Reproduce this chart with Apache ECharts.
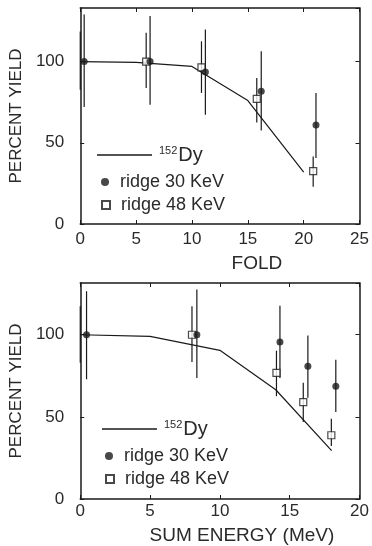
<!DOCTYPE html>
<html>
<head>
<meta charset="utf-8">
<script src="https://cdn.jsdelivr.net/npm/echarts@6/dist/echarts.min.js"></script>
<style>
  html, body { margin: 0; padding: 0; background: #fff; }
  #chart { width: 372px; height: 546px; }
</style>
</head>
<body>
<div id="chart"></div>
<script>
// top panel: yield vs fold
const foldLine = [[0, 100], [5, 99.5], [10, 97], [15, 76], [20, 32]];
const fold30X = [0.35, 6.25, 11.2, 16.2, 21.1];
const fold30Y = [100, 100, 93.6, 81.7, 60.9];
const fold30Lo = [72, 73.5, 67.3, 57.6, 40.6];
const fold30Hi = [129, 128, 119.8, 106.4, 80.7];
const fold48X = [0, 5.9, 10.85, 15.8, 20.85];
const fold48Y = [100, 100, 96.5, 77, 32.5];
const fold48Lo = [82.7, 83.8, 80.7, 62.5, 23];
const fold48Hi = [118.5, 117.7, 112.5, 89.9, 41.5];

// bottom panel: yield vs sum energy
const sumLine = [[0, 100], [5, 99], [10, 90.5], [14, 66.5], [18, 29.5]];
const sum30X = [0.45, 8.35, 14.3, 16.3, 18.3];
const sum30Y = [100, 100, 95.6, 80.8, 68.7];
const sum30Lo = [72.9, 73.7, 73.7, 61.6, 52.9];
const sum30Hi = [126.5, 127.6, 117.6, 99.6, 84.8];
const sum48X = [0, 8.0, 14.05, 15.97, 17.98];
const sum48Y = [100, 100, 76.8, 59, 38.8];
const sum48Lo = [83, 83.4, 62.6, 46.9, 32.3];
const sum48Hi = [117.4, 117.4, 90.3, 70.7, 48.9];

const INK = "#1a1a1a";
const TXT = "#2a2a2a";
const FONT = "Liberation Sans";

const chart = echarts.init(document.getElementById("chart"));

const pts = (xs, ys) => xs.map((x, i) => [x, ys[i]]);
const bars = (xs, lo, hi) => xs.map((x, i) => [x, lo[i], hi[i]]);
// the open square sitting on the frame (x = 0) is hidden by the axis in the original
const squares = (xs, ys) =>
  xs.map((x, i) => (x === 0 ? { value: [x, ys[i]], itemStyle: { opacity: 0 } } : [x, ys[i]]));

function errorBars(xi, yi, data) {
  return {
    type: "custom",
    xAxisIndex: xi,
    yAxisIndex: yi,
    silent: true,
    z: 2,
    encode: { x: 0, y: [1, 2] },
    data,
    renderItem: (params, api) => {
      const a = api.coord([api.value(0), api.value(1)]);
      const b = api.coord([api.value(0), api.value(2)]);
      return {
        type: "line",
        shape: { x1: a[0], y1: a[1], x2: b[0], y2: b[1] },
        style: { stroke: INK, lineWidth: 1.2 },
      };
    },
  };
}

function mainX(gi, max, name, namePad) {
  return {
    type: "value", gridIndex: gi, min: 0, max, interval: 5,
    name, nameLocation: "middle", nameGap: gi === 0 ? 30 : 27,
    nameTextStyle: { fontFamily: FONT, fontSize: 19, color: TXT, padding: [0, 0, 0, namePad] },
    axisLine: { lineStyle: { color: INK, width: 1.5 } },
    axisTick: { inside: true, length: 4, lineStyle: { color: INK } },
    axisLabel: { fontFamily: FONT, fontSize: 17, color: TXT, margin: gi === 0 ? 7 : 4 },
    splitLine: { show: false },
  };
}
function mirrorX(gi, max) {
  return {
    type: "value", gridIndex: gi, position: "top", min: 0, max, interval: 5,
    axisLine: { onZero: false, lineStyle: { color: INK, width: 1.5 } },
    axisTick: { inside: true, length: 4, lineStyle: { color: INK } },
    axisLabel: { show: false }, splitLine: { show: false },
  };
}
function mainY(gi, max) {
  return {
    type: "value", gridIndex: gi, min: 0, max, interval: 50,
    name: "PERCENT YIELD", nameLocation: "middle", nameGap: 52,
    nameTextStyle: { fontFamily: FONT, fontSize: 17, color: TXT },
    axisLine: { show: true, lineStyle: { color: INK, width: 1.5 } },
    axisTick: { show: true, inside: true, length: 4, lineStyle: { color: INK } },
    axisLabel: { fontFamily: FONT, fontSize: 17, color: TXT, margin: 16, showMaxLabel: false },
    splitLine: { show: false },
  };
}
function mirrorY(gi, max) {
  return {
    type: "value", gridIndex: gi, position: "right", min: 0, max, interval: 50,
    axisLine: { show: true, onZero: false, lineStyle: { color: INK, width: 1.5 } },
    axisTick: { show: true, inside: true, length: 4, lineStyle: { color: INK } },
    axisLabel: { show: false }, splitLine: { show: false },
  };
}

function panelSeries(xi, yi, line, x30, y30, lo30, hi30, x48, y48, lo48, hi48) {
  return [
    {
      name: "152Dy", type: "line", xAxisIndex: xi, yAxisIndex: yi,
      data: line, symbol: "none", z: 1,
      lineStyle: { color: INK, width: 1.2 }, itemStyle: { color: INK },
    },
    errorBars(xi, yi, bars(x30, lo30, hi30)),
    errorBars(xi, yi, bars(x48, lo48, hi48)),
    {
      name: "ridge 30 KeV", type: "scatter", xAxisIndex: xi, yAxisIndex: yi,
      data: pts(x30, y30), symbol: "circle", symbolSize: 7, z: 4,
      itemStyle: { color: INK },
    },
    {
      name: "ridge 48 KeV", type: "scatter", xAxisIndex: xi, yAxisIndex: yi,
      data: squares(x48, y48), symbol: "rect", symbolSize: 7, z: 3,
      itemStyle: { color: "#fff", borderColor: INK, borderWidth: 1.2 },
    },
  ];
}

const legendText = {
  fontFamily: FONT, fontSize: 18, color: TXT,
  rich: {
    sup: { fontFamily: FONT, fontSize: 11, color: TXT, verticalAlign: "top", padding: [0, 1, 8, 2] },
    big: { fontFamily: FONT, fontSize: 20, color: TXT },
    pad: { fontFamily: FONT, fontSize: 18, color: TXT, padding: [0, 0, 0, 6] },
  },
};

function panelLegends(lineTop, lineLeft, ptLeft, row1, row2) {
  return [
    {
      left: lineLeft, top: lineTop, itemWidth: 55, itemHeight: 1.3,
      data: [{ name: "152Dy", icon: "rect" }], selectedMode: false, textStyle: legendText,
      itemStyle: { color: INK, borderWidth: 0 },
      formatter: () => "{sup|152}{big|Dy}",
    },
    {
      left: ptLeft, top: row1, itemWidth: 8, itemHeight: 8,
      data: ["ridge 30 KeV"], selectedMode: false, textStyle: legendText,
      formatter: (n) => "{pad|" + n + "}",
    },
    {
      left: ptLeft, top: row2, itemWidth: 8, itemHeight: 8,
      data: ["ridge 48 KeV"], selectedMode: false, textStyle: legendText,
      formatter: (n) => "{pad|" + n + "}",
    },
  ];
}

chart.setOption({
  animation: false,
  backgroundColor: "#fff",
  grid: [
    { left: 79, right: 12, top: 8, bottom: 322 },
    { left: 80, right: 11, top: 283, bottom: 46 },
  ],
  xAxis: [
    mainX(0, 25, "FOLD", 74),
    mirrorX(0, 25),
    mainX(1, 20, "SUM ENERGY (MeV)", 44),
    mirrorX(1, 20),
  ],
  yAxis: [
    mainY(0, 133),
    mirrorY(0, 133),
    mainY(1, 131.5),
    mirrorY(1, 131.5),
  ],
  legend: [
    ...panelLegends(140, 92, 96, 168, 191),
    ...panelLegends(414, 97, 100, 442, 465),
  ],
  series: [
    ...panelSeries(0, 0, foldLine, fold30X, fold30Y, fold30Lo, fold30Hi, fold48X, fold48Y, fold48Lo, fold48Hi),
    ...panelSeries(2, 2, sumLine, sum30X, sum30Y, sum30Lo, sum30Hi, sum48X, sum48Y, sum48Lo, sum48Hi),
  ],
});
</script>
</body>
</html>
